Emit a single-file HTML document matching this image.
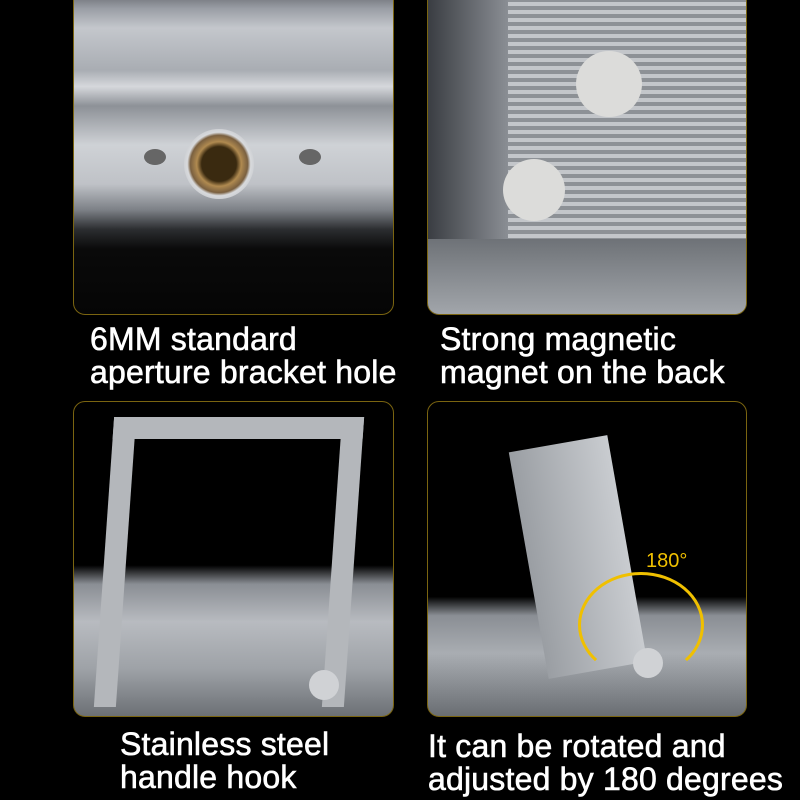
<!DOCTYPE html>
<html><head><meta charset="utf-8"><style>
body{margin:0;width:800px;height:800px;background:#000;position:relative;overflow:hidden;font-family:"Liberation Sans",sans-serif}
.p{position:absolute;border:1px solid #7a6410;border-radius:12px;overflow:hidden;box-sizing:border-box}
.t{position:absolute;color:#fff;font-size:32px;line-height:33px;-webkit-text-stroke:0.6px #fff;letter-spacing:0.2px}
.a{position:absolute}
</style></head><body>
<div class="p" style="left:73px;top:-12px;width:321px;height:327px;background:linear-gradient(180deg,#5a5d63 0%,#9a9ea5 6%,#c4c7cc 12%,#a9adb3 25%,#d6d8dc 30%,#8d9197 36%,#cfd2d6 48%,#bfc2c7 60%,#7c8086 68%,#2b2d30 74%,#0a0a0a 80%,#050505 100%)">
 <div class="a" style="left:110px;top:140px;width:70px;height:70px;border-radius:50%;background:radial-gradient(circle,#3a2a10 0 35%,#b08a50 45%,#7a6040 58%,#d8dadd 64%,#a8abb0 100%)"></div>
 <div class="a" style="left:70px;top:160px;width:22px;height:16px;border-radius:50%;background:#666"></div>
 <div class="a" style="left:225px;top:160px;width:22px;height:16px;border-radius:50%;background:#666"></div>
</div>
<div class="p" style="left:427px;top:-12px;width:320px;height:327px;background:repeating-linear-gradient(0deg,#8d9196 0 4px,#c3c6ca 4px 8px)">
 <div class="a" style="left:0;top:0;width:80px;height:327px;background:linear-gradient(90deg,#3a3d42,#8a8e94)"></div>
 <div class="a" style="left:0;top:250px;width:320px;height:80px;background:linear-gradient(180deg,#6e7277,#a5a9ae)"></div>
 <div class="a" style="left:148px;top:62px;width:66px;height:66px;border-radius:50%;background:#dcdcda"></div>
 <div class="a" style="left:75px;top:170px;width:62px;height:62px;border-radius:50%;background:#dcdcda"></div>
</div>
<div class="p" style="left:73px;top:401px;width:321px;height:316px;background:linear-gradient(180deg,#000 0%,#000 52%,#8a8e94 58%,#b8bbc0 70%,#9ea2a7 85%,#6c7075 100%)">
 <div class="a" style="left:30px;top:15px;width:250px;height:290px;border:22px solid #b4b7bb;border-bottom:none;box-sizing:border-box;transform:skewX(-4deg)"></div>
 <div class="a" style="left:235px;top:268px;width:30px;height:30px;border-radius:50%;background:#d0d2d5"></div>
</div>
<div class="p" style="left:427px;top:401px;width:320px;height:316px;background:linear-gradient(180deg,#000 0%,#000 62%,#8a8e94 68%,#a9adb2 80%,#6a6e73 100%)">
 <div class="a" style="left:100px;top:40px;width:100px;height:230px;background:linear-gradient(90deg,#9a9ea3,#c9ccd0);transform:rotate(-10deg)"></div>
 <div class="a" style="left:150px;top:170px;width:120px;height:100px;border:3px solid #f0c000;border-radius:50%;border-bottom-color:transparent;border-left-color:#f0c000"></div>
 <div class="a" style="left:205px;top:246px;width:30px;height:30px;border-radius:50%;background:#d0d2d5"></div>
 <div class="a" style="left:218px;top:148px;color:#f0c000;font-size:20px">180°</div>
</div>
<div class="t" style="left:90px;top:323px">6MM standard<br>aperture bracket hole</div>
<div class="t" style="left:440px;top:323px">Strong magnetic<br>magnet on the back</div>
<div class="t" style="left:120px;top:728px">Stainless steel<br>handle hook</div>
<div class="t" style="left:428px;top:730px">It can be rotated and<br>adjusted by 180 degrees</div>
</body></html>
